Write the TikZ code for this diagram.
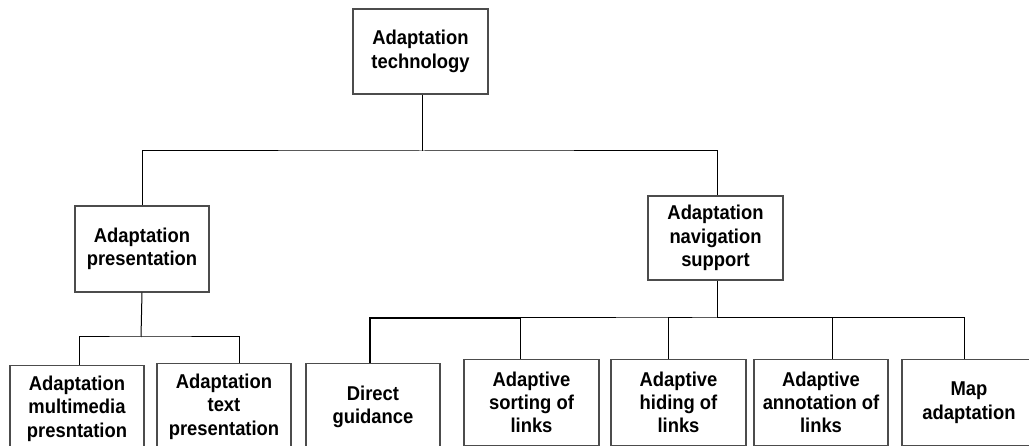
\documentclass[tikz,border=0pt]{standalone}
\usepackage{fontspec}
\setmainfont{Liberation Sans}[FakeStretch=0.92]
\begin{document}
\begin{tikzpicture}[x=1pt,y=-1pt,
  box/.style={draw=black!70,line width=1.1pt,rectangle,minimum width=134pt,
    minimum height=86pt,inner sep=0pt,align=center,
    font=\fontsize{20pt}{23.3pt}\selectfont\bfseries},
  link/.style={draw=black,line width=1pt}]
\clip (0,0) rectangle (1029,446);
\fill[white] (0,0) rectangle (1029,446);

% tree nodes
\node[box,minimum width=135pt,minimum height=85pt] (top) at (420.5,51.5) {Adaptation\\technology};
\node[box] (pres) at (142,249) {Adaptation\\presentation};
\node[box,minimum width=135pt,minimum height=84pt] (nav) at (715.5,238) {Adaptation\\navigation\\support};

\node[box,anchor=north] (mm)   at (77,365)    {Adaptation\\multimedia\\presntation};
\node[box,anchor=north] (txt)  at (224,363)   {Adaptation\\text\\presentation};
\node[box,anchor=north] (dir)  at (373,363)   {Direct\\guidance};
\node[box,anchor=north,minimum width=135pt] (sort) at (531.5,359) {Adaptive\\sorting of\\links};
\node[box,anchor=north,minimum width=135pt] (hide) at (678.5,359) {Adaptive\\hiding of\\links};
\node[box,anchor=north] (ann)  at (821,359)   {Adaptive\\annotation of\\links};
\node[box,anchor=north] (map)  at (969,359)   {Map\\adaptation};

% bus lines
\coordinate (b0) at (422,151);
\coordinate (b1) at (141,337);
\coordinate (b2) at (717,318);

% first level
\draw[link] ([xshift=1.5pt]top.south) -- (b0);
\draw[link] (pres.north) |- (b0) -| ([xshift=1.5pt]nav.north);

% left branch
\draw[link] (pres.south) -- (b1);
\draw[link] ([xshift=2pt]mm.north) |- (b1) -| ([xshift=15pt]txt.north);

% right branch
\draw[link] ([xshift=1.5pt]nav.south) -- (b2);
\draw[link,line width=1.4pt] ([xshift=-3pt]dir.north) |- ([xshift=-11.5pt]sort.north |- b2);
\draw[link] ([xshift=-11.5pt]sort.north) |- (b2) -| ([xshift=-10.5pt]hide.north);
\draw[link] (b2) -| ([xshift=11pt]ann.north);
\draw[link] (b2) -| ([xshift=-5pt]map.north);
\end{tikzpicture}
\end{document}
